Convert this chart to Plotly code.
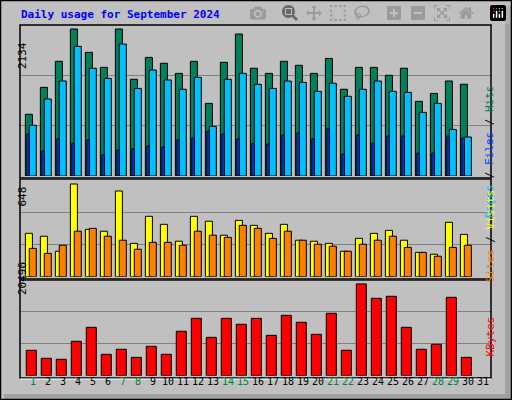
import plotly.graph_objects as go

days = list(range(1, 32))
hits = [896,1287,1665,2134,1795,1577,2134,1404,1722,1637,1490,1665,1054,1650,2061,1564,1490,1665,1607,1490,1707,1259,1577,1577,1462,1564,1084,1199,1379,1332]
files = [736,1118,1379,1882,1564,1417,1916,1272,1539,1394,1259,1432,721,1404,1490,1332,1272,1379,1359,1229,1347,1157,1259,1379,1229,1214,924,1054,676,566]
pages = [610,363,538,474,523,305,378,393,435,420,523,553,653,610,538,474,465,595,625,538,683,320,595,478,580,580,333,333,580,553]
visits = [303,283,178,648,331,318,599,233,422,366,248,422,388,290,394,359,303,366,255,248,233,178,268,303,324,255,170,157,380,296]
sites = [198,163,220,318,338,283,255,192,240,240,220,318,290,275,359,338,268,318,255,227,213,178,227,255,283,205,170,143,205,220]
kbytes = [5676,3893,3668,7684,10798,4774,5901,4098,6557,4774,9917,12806,8565,12806,11474,12806,9016,13482,11925,9241,13933,5676,20490,17273,17724,10798,5901,7008,17498,4098]
weekend = [1,7,8,14,15,21,22,28,29]
max_hits, max_visits, max_kb = 2134, 648, 20490

W, H = 512, 400
def py(p): return 1 - p / H

x = days[:len(hits)]
fig = go.Figure()
ln = dict(color="black", width=1)
fig.add_bar(x=x, y=hits, width=0.47, offset=-0.51, marker=dict(color="#00805c", line=ln), yaxis="y")
fig.add_bar(x=x, y=files, width=0.47, offset=-0.25, marker=dict(color="#00c0ff", line=ln), yaxis="y")
fig.add_bar(x=x, y=pages, width=0.16, offset=-0.41, marker=dict(color="#0040ff", line=ln), yaxis="y")
fig.add_bar(x=x, y=visits, width=0.47, offset=-0.51, marker=dict(color="#ffff00", line=ln), yaxis="y2")
fig.add_bar(x=x, y=sites, width=0.47, offset=-0.25, marker=dict(color="#ff8000", line=ln), yaxis="y2")
fig.add_bar(x=x, y=kbytes, width=0.67, offset=-0.45, marker=dict(color="#ff0000", line=ln), yaxis="y3")

def yax(base, top, vmax, vpx):
    rmax = vmax * (base - top) / vpx
    return dict(domain=[py(base), py(top)], range=[0, rmax], tickvals=[rmax/3, 2*rmax/3],
                showticklabels=False, showgrid=True, gridcolor="#808080", gridwidth=1,
                zeroline=False, showline=False, fixedrange=True)

fig.update_layout(
    width=W, height=H, margin=dict(l=0, r=0, t=0, b=0),
    paper_bgcolor="#c0c0c0", plot_bgcolor="#c0c0c0", showlegend=False,
    barmode="overlay",
    xaxis=dict(domain=[20/W, 491/W], range=[0.133, 31.53], showticklabels=False,
               showgrid=False, zeroline=False),
    yaxis=yax(176, 25, max_hits, 147),
    yaxis2=dict(yax(276.7, 180, max_visits, 92.7), anchor="x"),
    yaxis3=dict(yax(375.7, 280, max_kb, 91.8), anchor="x"),
)

shapes = []
for (t, b) in [(25, 178), (179, 279), (280, 378)]:
    shapes.append(dict(type="rect", xref="paper", yref="paper", x0=20/W, x1=491/W,
                       y0=py(b), y1=py(t), line=dict(color="black", width=1.5)))
    shapes.append(dict(type="line", xref="paper", yref="paper", x0=20/W, x1=491/W,
                       y0=py(b+1), y1=py(b+1), line=dict(color="white", width=1)))
shapes.append(dict(type="rect", xref="paper", yref="paper", x0=505/W, x1=511/W, y0=1/H, y1=1-6/H,
                   fillcolor="#a0a0a0", line=dict(width=0)))
shapes.append(dict(type="rect", xref="paper", yref="paper", x0=4/W, x1=511/W, y0=1/H, y1=6/H,
                   fillcolor="#a0a0a0", line=dict(width=0)))
shapes.append(dict(type="rect", xref="paper", yref="paper", x0=0.5/W, x1=1-0.5/W, y0=0.5/H, y1=1-0.5/H,
                   line=dict(color="black", width=1.5)))
fig.update_layout(shapes=shapes)

mono = "DejaVu Sans Mono"
ann = [dict(text="<b>Daily usage for September 2024</b>", x=19/W, y=py(15), xref="paper", yref="paper",
            xanchor="left", yanchor="middle", showarrow=False, font=dict(family=mono, size=11, color="#0000ff"))]
for d in days:
    ann.append(dict(text=str(d), x=d, y=py(389), xref="x", yref="paper", showarrow=False,
                    font=dict(family=mono, size=10, color="#008040" if d in weekend else "black")))
for txt, yc in [(str(max_hits), 40), (str(max_visits), 197), (str(max_kb), 297)]:
    ann.append(dict(text=txt, x=14/W, y=py(yc), xref="paper", yref="paper", textangle=-90,
                    showarrow=False, font=dict(family=mono, size=11, color="black")))
for txt, yc in [("<span style='color:#00c0ff'>Pages</span> / <span style='color:#0040ff'>Files</span> / <span style='color:#00805c'>Hits</span>", 83),
                ("<span style='color:#ff8000'>Sites</span> / <span style='color:#ffff00'>Visits</span>", 236),
                ("<span style='color:#ff0000'>KBytes</span>", 359)]:
    ann.append(dict(text=txt, x=498/W, y=py(yc), xref="paper", yref="paper", textangle=-90,
                    showarrow=False, font=dict(family=mono, size=11, color="black")))
fig.update_layout(annotations=ann)

fig.write_html("out.html", post_script="document.body.style.margin='0';document.body.style.overflow='hidden';")
